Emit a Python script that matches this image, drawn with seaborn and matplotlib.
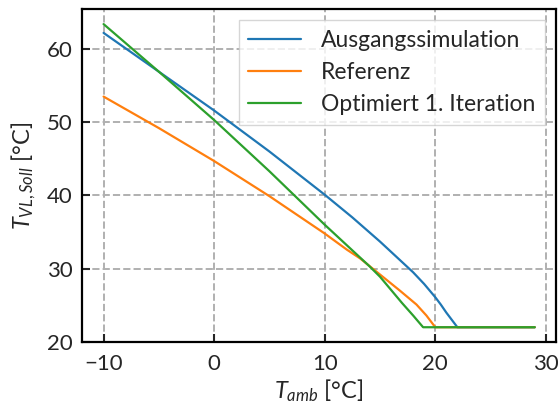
import pandas as pd
import matplotlib
matplotlib.use("Agg")
import matplotlib.pyplot as plt
import seaborn as sns

# Werte (T_amb in °C, T_VL,Soll in °C)
t_amb_ausgang = [-10, -5, 0, 5, 10, 12.5, 15, 16, 17, 18, 19, 20, 20.5, 21, 21.5, 22, 29]
t_vl_ausgang = [62.2, 56.9, 51.6, 46.0, 40.1, 37.0, 33.7, 32.3, 30.9, 29.5, 27.9, 26.1,
                25.1, 24.0, 23.0, 22.0, 22.0]

t_amb_referenz = [-10, -5, 0, 5, 10, 12, 13.2, 15, 16.8, 18.3, 19.2, 19.6, 20, 29]
t_vl_referenz = [53.5, 49.2, 44.7, 39.9, 34.8, 32.6, 31.4, 29.2, 27.0, 25.1, 23.6, 22.8,
                 22.0, 22.0]

t_amb_optimiert = [-10, -5, 0, 5, 10, 11, 12, 13, 14, 15, 16, 17, 18, 18.9, 29]
t_vl_optimiert = [63.4, 56.9, 50.3, 43.3, 36.0, 34.6, 33.2, 31.8, 30.4, 28.9, 27.1, 25.3,
                  23.6, 22.0, 22.0]

labels = ["Ausgangssimulation", "Referenz", "Optimiert 1. Iteration"]
colors = ["#1f77b4", "#ff7f0e", "#2ca02c"]

sns.set_style("ticks")
plt.rcParams["font.family"] = ["Lato", "DejaVu Sans"]
plt.rcParams["mathtext.fontset"] = "custom"
plt.rcParams["mathtext.rm"] = "Lato"
plt.rcParams["mathtext.it"] = "Lato:italic"

fig, ax = plt.subplots(figsize=(5.58, 4.07), dpi=100)
fig.subplots_adjust(left=0.147, right=0.997, top=0.978, bottom=0.160)

series = [
    (t_amb_ausgang, t_vl_ausgang),
    (t_amb_referenz, t_vl_referenz),
    (t_amb_optimiert, t_vl_optimiert),
]
for (xs, ys), lab, col in zip(series, labels, colors):
    df = pd.DataFrame({"x": xs, "y": ys})
    sns.lineplot(data=df, x="x", y="y", ax=ax, label=lab, color=col,
                 linewidth=1.6, sort=False)

ax.set_ylim(bottom=20)
ax.set_xticks([-10, 0, 10, 20, 30])
ax.set_yticks([20, 30, 40, 50, 60])
ax.grid(True, linestyle="--", color="#b0b0b0", linewidth=1.4)
ax.tick_params(direction="in", length=6, width=1.5, labelsize=16)
ax.tick_params(axis="x", pad=9)
ax.tick_params(axis="y", pad=7)
for sp in ax.spines.values():
    sp.set_linewidth(1.6)
    sp.set_color("black")

ax.set_xlabel(r"$T_{amb}$ [°C]", fontsize=17, labelpad=2)
ax.set_ylabel(r"$T_{VL,Soll}$ [°C]", fontsize=17, labelpad=6)

ax.legend(loc="upper right", fontsize=16.5, handlelength=2.3, handletextpad=0.9,
          borderaxespad=0.5, edgecolor="#cccccc", fancybox=False)

fig.savefig("out.png", dpi=100)
